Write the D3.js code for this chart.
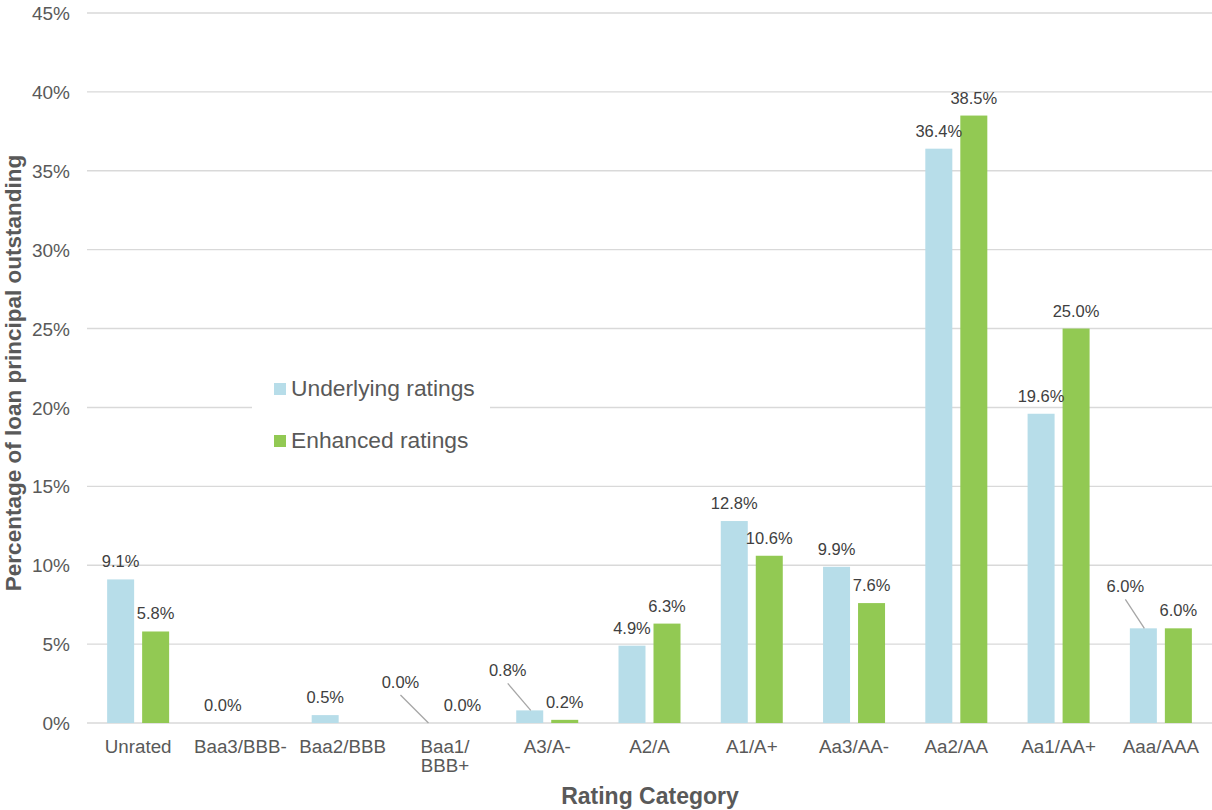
<!DOCTYPE html>
<html>
<head>
<meta charset="utf-8">
<script src="https://cdn.jsdelivr.net/npm/d3@7"></script>
<style>
  html, body { margin: 0; padding: 0; background: #fff; }
  svg { display: block; font-family: "Liberation Sans", Arial, sans-serif; }
</style>
</head>
<body>
<svg id="chart" width="1212" height="810"></svg>
<script>
// Rating categories along the x axis
const categories = ["Unrated", "Baa3/BBB-", "Baa2/BBB", "Baa1/BBB+", "A3/A-", "A2/A",
                    "A1/A+", "Aa3/AA-", "Aa2/AA", "Aa1/AA+", "Aaa/AAA"];
// Axis tick text (multi-line where the label wraps)
const tickLabels = [["Unrated"], ["Baa3/BBB-"], ["Baa2/BBB"], ["Baa1/", "BBB+"], ["A3/A-"], ["A2/A"],
                    ["A1/A+"], ["Aa3/AA-"], ["Aa2/AA"], ["Aa1/AA+"], ["Aaa/AAA"]];
const seriesNames = ["Underlying ratings", "Enhanced ratings"];
// Percentage of loan principal outstanding (null = no value shown)
const underlying = [9.1, 0.0, 0.5, 0.0, 0.8, 4.9, 12.8, 9.9, 36.4, 19.6, 6.0];
const enhanced   = [5.8, null, null, 0.0, 0.2, 6.3, 10.6, 7.6, 38.5, 25.0, 6.0];
const yTicks = [0, 5, 10, 15, 20, 25, 30, 35, 40, 45];

// Data labels that were pulled away from their bars and get a leader line
const labelNudges = [
  { series: 0, category: "Baa1/BBB+", dx: -27, dy: -23 },
  { series: 0, category: "A3/A-",     dx: -22, dy: -22 },
  { series: 0, category: "Aaa/AAA",   dx: -18, dy: -24 }
];

const colors = ["#b7dde9", "#92c953"];
const values = [underlying, enhanced];
const FONT = "'Liberation Sans', Arial, sans-serif";

const svg = d3.select("#chart");
const plot = { left: 87, right: 1212, top: 13, bottom: 723 };

const x0 = d3.scaleBand().domain(categories).range([plot.left, plot.right]).padding(0);
const bw = x0.bandwidth();
const x1 = d3.scaleBand().domain(d3.range(seriesNames.length))
  .range([bw / 2 - 31, bw / 2 + 31]).paddingInner(0.2286).paddingOuter(0);
const y = d3.scaleLinear().domain([0, 45]).range([plot.bottom, plot.top]);

// Gridlines
svg.append("g").selectAll("line").data(yTicks).join("line")
  .attr("x1", plot.left).attr("x2", plot.right)
  .attr("y1", d => y(d)).attr("y2", d => y(d))
  .attr("stroke", "#d9d9d9").attr("stroke-width", 1.4);

// Y axis labels
const yAxis = d3.axisLeft(y).tickValues(yTicks).tickFormat(d => d + "%").tickSize(0).tickPadding(0);
const yg = svg.append("g").attr("transform", `translate(${plot.left - 17},0)`).call(yAxis);
yg.select(".domain").remove();
yg.selectAll("text").attr("fill", "#595959").attr("font-size", "19px")
  .attr("font-family", FONT).attr("dy", "0.35em");

// X axis labels
const xg = svg.append("g");
categories.forEach((c, i) => {
  const t = xg.append("text")
    .attr("x", x0(c) + bw / 2).attr("y", 753)
    .attr("text-anchor", "middle").attr("fill", "#595959").attr("font-size", "18.8px");
  tickLabels[i].forEach((line, j) => {
    t.append("tspan").attr("x", x0(c) + bw / 2).attr("dy", j === 0 ? 0 : 19).text(line);
  });
});

// Bars
const rows = [];
categories.forEach((c, i) => {
  values.forEach((arr, s) => {
    rows.push({ category: c, series: s, value: arr[i] });
  });
});

svg.append("g").selectAll("rect").data(rows.filter(d => d.value !== null)).join("rect")
  .attr("x", d => x0(d.category) + x1(d.series))
  .attr("width", x1.bandwidth())
  .attr("y", d => y(d.value))
  .attr("height", d => y(0) - y(d.value))
  .attr("fill", d => colors[d.series]);

// Data labels
const labelG = svg.append("g");
rows.filter(d => d.value !== null).forEach(d => {
  const cx = x0(d.category) + x1(d.series) + x1.bandwidth() / 2;
  const top = y(d.value);
  const nudge = labelNudges.find(n => n.series === d.series && n.category === d.category);
  let lx = cx, ly = top - 12;
  if (nudge) {
    lx += nudge.dx; ly += nudge.dy;
    labelG.append("line")
      .attr("x1", lx).attr("y1", ly + 7)
      .attr("x2", cx + 1).attr("y2", top)
      .attr("stroke", "#a6a6a6").attr("stroke-width", 1.3);
  }
  labelG.append("text")
    .attr("x", lx).attr("y", ly)
    .attr("text-anchor", "middle").attr("fill", "#404040").attr("font-size", "16.5px")
    .text(d.value.toFixed(1) + "%");
});

// Legend
const legend = svg.append("g");
legend.append("rect").attr("x", 252).attr("y", 365).attr("width", 238).attr("height", 95).attr("fill", "#fff");
seriesNames.forEach((name, i) => {
  const yy = 383 + i * 52;
  legend.append("rect").attr("x", 274).attr("y", yy).attr("width", 12).attr("height", 12).attr("fill", colors[i]);
  legend.append("text").attr("x", 291).attr("y", yy + 13)
    .attr("fill", "#595959").attr("font-size", "22.8px").text(name);
});

// Axis titles
svg.append("text").attr("x", 650).attr("y", 804).attr("text-anchor", "middle")
  .attr("fill", "#595959").attr("font-size", "23px").attr("font-weight", "bold")
  .text("Rating Category");
svg.append("text").attr("transform", "translate(21,373) rotate(-90)").attr("text-anchor", "middle")
  .attr("fill", "#595959").attr("font-size", "22.5px").attr("font-weight", "bold")
  .text("Percentage of loan principal outstanding");
</script>
</body>
</html>
